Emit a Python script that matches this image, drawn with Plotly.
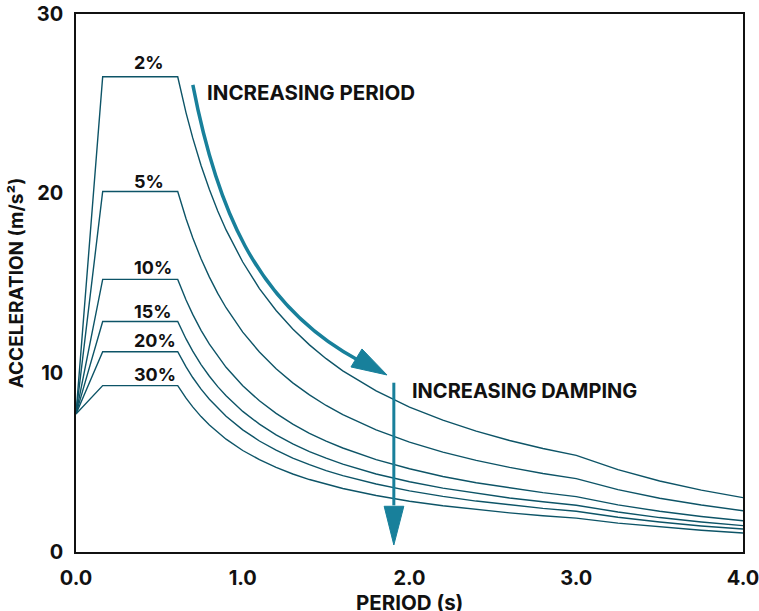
import plotly.graph_objects as go

# Period values (s)
period = [0.0, 0.16, 0.61, 0.63, 0.66, 0.7, 0.75, 0.8, 0.85, 0.9, 1.0, 1.1, 1.2, 1.3,
          1.4, 1.5, 1.6, 1.8, 2.0, 2.2, 2.4, 2.6, 2.8, 3.0, 3.25, 3.5, 3.75, 4.0]

# Spectral acceleration (m/s^2) for each damping ratio
acc_2 = [7.7, 26.5, 26.5, 25.66, 24.49, 23.09, 21.55, 20.21, 19.02, 17.96, 16.17, 14.69,
         13.47, 12.43, 11.55, 10.78, 10.10, 8.98, 8.08, 7.35, 6.74, 6.22, 5.77, 5.39,
         4.59, 3.96, 3.45, 3.03]
acc_5 = [7.7, 20.1, 20.1, 19.46, 18.58, 17.52, 16.35, 15.33, 14.42, 13.62, 12.26, 11.15,
         10.22, 9.43, 8.76, 8.17, 7.66, 6.81, 6.13, 5.57, 5.11, 4.72, 4.38, 4.09,
         3.48, 3.00, 2.62, 2.30]
acc_10 = [7.7, 15.2, 15.2, 14.72, 14.05, 13.25, 12.36, 11.59, 10.91, 10.30, 9.27, 8.43,
          7.73, 7.13, 6.62, 6.18, 5.80, 5.15, 4.64, 4.21, 3.86, 3.57, 3.31, 3.09,
          2.63, 2.27, 1.98, 1.74]
acc_15 = [7.7, 12.85, 12.85, 12.44, 11.88, 11.20, 10.45, 9.80, 9.22, 8.71, 7.84, 7.13,
          6.53, 6.03, 5.60, 5.23, 4.90, 4.35, 3.92, 3.56, 3.27, 3.01, 2.80, 2.61,
          2.23, 1.92, 1.67, 1.47]
acc_20 = [7.7, 11.17, 11.17, 10.82, 10.32, 9.73, 9.08, 8.52, 8.02, 7.57, 6.81, 6.19,
          5.68, 5.24, 4.87, 4.54, 4.26, 3.79, 3.41, 3.10, 2.84, 2.62, 2.43, 2.27,
          1.94, 1.67, 1.45, 1.28]
acc_30 = [7.7, 9.28, 9.28, 8.99, 8.58, 8.09, 7.55, 7.08, 6.66, 6.29, 5.66, 5.15,
          4.72, 4.35, 4.04, 3.77, 3.54, 3.15, 2.83, 2.58, 2.36, 2.18, 2.02, 1.89,
          1.61, 1.39, 1.21, 1.06]

damping_labels = ["2%", "5%", "10%", "15%", "20%", "30%"]
series = [acc_2, acc_5, acc_10, acc_15, acc_20, acc_30]
label_shift = [2, -2, -1, -2, -1, -1]

x_ticks = [0, 1, 2, 3, 4]
x_tick_text = ["0.0", "1.0", "2.0", "3.0", "4.0"]
y_ticks = [0, 10, 20, 30]

LINE = "#0d5467"
ARROW = "#18809b"
FONT = "Inter"

fig = go.Figure()
for name, vals in zip(damping_labels, series):
    fig.add_trace(go.Scatter(x=period, y=vals, mode="lines", name=name,
                             line=dict(color=LINE, width=1.4), hoverinfo="skip",
                             showlegend=False))

annotations = []
for name, vals, sh in zip(damping_labels, series, label_shift):
    annotations.append(dict(x=0.335, y=vals[1], xref="x", yref="y", text=name,
                            showarrow=False, xanchor="left", yanchor="bottom", yshift=sh,
                            font=dict(family=FONT, size=18, color="#111", weight="bold")))

annotations.append(dict(x=0.775, y=25.6, xref="x", yref="y", text="INCREASING PERIOD",
                        showarrow=False, xanchor="left", yanchor="middle",
                        font=dict(family=FONT, size=20.5, color="#111", weight="bold")))
annotations.append(dict(x=2.0, y=8.98, xref="x", yref="y", text="INCREASING DAMPING",
                        showarrow=False, xanchor="left", yanchor="middle",
                        font=dict(family=FONT, size=20, color="#111", weight="bold")))
# x-axis title
annotations.append(dict(x=0.5, y=-0.094, xref="paper", yref="paper", text="PERIOD (s)",
                        showarrow=False, xanchor="center", yanchor="middle",
                        font=dict(family=FONT, size=20.5, color="#111", weight="bold")))

shapes = [
    dict(type="path", xref="x", yref="y",
         path="M 0.7006,26.046 C 0.8371,19.487 1.0659,13.787 1.7006,10.653",
         line=dict(color=ARROW, width=3.5)),
    dict(type="path", xref="x", yref="y",
         path="M 1.865,9.872 L 1.649,10.318 L 1.715,11.322 Z",
         fillcolor=ARROW, line=dict(color=ARROW, width=1)),
    dict(type="line", xref="x", yref="y", x0=1.906, x1=1.906, y0=9.44, y1=2.6,
         line=dict(color=ARROW, width=3)),
    dict(type="path", xref="x", yref="y",
         path="M 1.848,2.55 L 1.966,2.55 L 1.906,0.39 Z",
         fillcolor=ARROW, line=dict(color=ARROW, width=1)),
]

fig.update_layout(
    width=759, height=611,
    margin=dict(l=76, r=16, t=14, b=59, autoexpand=False),
    plot_bgcolor="white", paper_bgcolor="white",
    annotations=annotations, shapes=shapes,
    xaxis=dict(range=[0, 4], tickvals=x_ticks, ticktext=x_tick_text, showgrid=False,
               zeroline=False, showline=True, linecolor="#111", linewidth=1.5, mirror=True,
               ticks="", ticklabelstandoff=7, automargin=False, ticklabeloverflow="allow",
               tickfont=dict(family=FONT, size=20, color="#111", weight="bold")),
    yaxis=dict(range=[0, 30], tickvals=y_ticks, showgrid=False, zeroline=False,
               showline=True, linecolor="#111", linewidth=1.5, mirror=True, ticks="",
               ticklabelstandoff=7, automargin=False, ticklabeloverflow="allow",
               tickfont=dict(family=FONT, size=20, color="#111", weight="bold"),
               title=dict(text="ACCELERATION (m/s²)", standoff=8,
                          font=dict(family=FONT, size=19, color="#111", weight="bold"))),
)

fig.write_html("out.html", config={"displayModeBar": False},
               post_script="document.body.style.margin='0px';")
